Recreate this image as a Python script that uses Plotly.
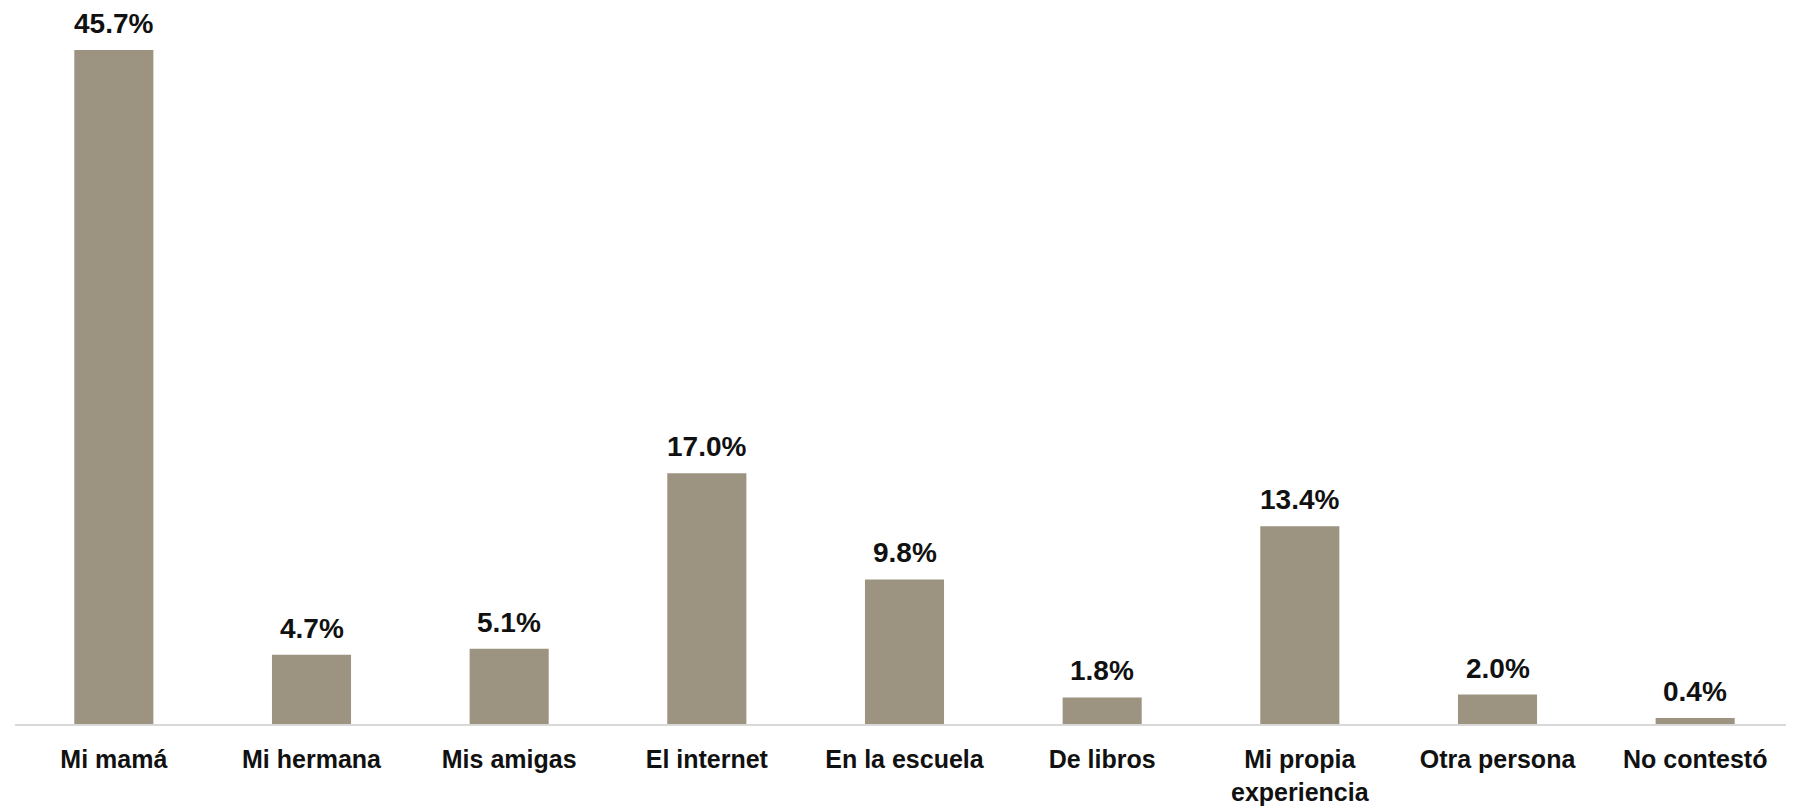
import plotly.graph_objects as go

categorias = ["Mi mamá", "Mi hermana", "Mis amigas", "El internet", "En la escuela",
              "De libros", "Mi propia<br>experiencia", "Otra persona", "No contestó"]
porcentajes = [45.7, 4.7, 5.1, 17.0, 9.8, 1.8, 13.4, 2.0, 0.4]
etiquetas = [f"{v:.1f}%" for v in porcentajes]

color_barra = "#9c9381"
fuente = "Liberation Sans, Arial, sans-serif"

fig = go.Figure()
fig.add_trace(go.Bar(x=categorias, y=porcentajes, marker_color=color_barra,
                     marker_line_width=0, hoverinfo="skip"))

for c, v, t in zip(categorias, porcentajes, etiquetas):
    fig.add_annotation(x=c, y=v, text=f"<b>{t}</b>", showarrow=False,
                       yanchor="bottom", yshift=10, borderpad=0,
                       font=dict(family=fuente, size=28, color="#111111"))

fig.update_layout(
    width=1786, height=803,
    margin=dict(l=7, r=0, t=0, b=87),
    paper_bgcolor="white", plot_bgcolor="white",
    bargap=0.6, showlegend=False,
    font=dict(family=fuente, size=25, color="#111111"),
)
fig.update_xaxes(showline=True, linecolor="#d9d9d9", linewidth=2,
                 ticks="outside", ticklen=12, tickcolor="rgba(0,0,0,0)",
                 tickfont=dict(family=fuente, size=25, color="#111111"),
                 tickprefix="<b>", ticksuffix="</b>", showgrid=False,
                 automargin=False)
fig.update_yaxes(visible=False, range=[0, 48.54], showgrid=False)

fig.write_html("out.html")
